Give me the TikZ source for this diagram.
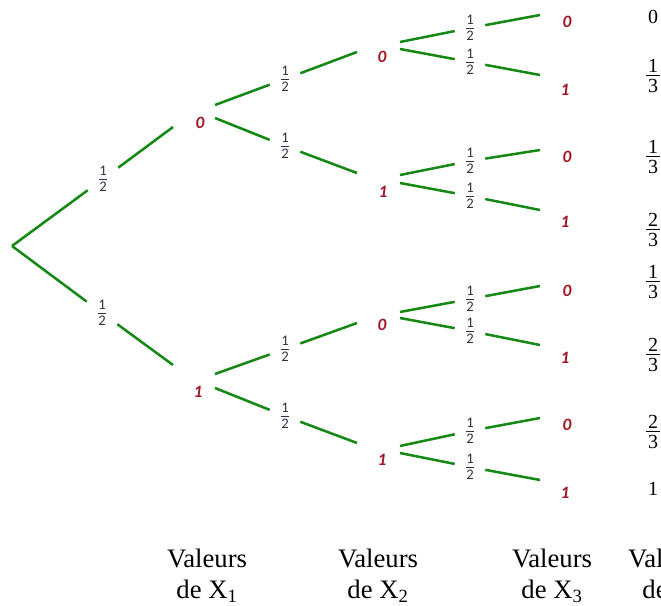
\documentclass[tikz,border=0pt]{standalone}
\usepackage{fontspec}
\setmainfont{Liberation Serif}
\newfontfamily\calibfont{Carlito}
\definecolor{treegreen}{RGB}{22,136,22}
\definecolor{valred}{RGB}{160,22,36}
\definecolor{fracink}{RGB}{45,52,70}
% stacked fraction: numerator, bar, denominator
\newcommand\pfr[2]{\vbox{\hbox to6.5pt{\hfil#1\hfil}\kern2.1pt\hrule height0.6pt\kern2.1pt\hbox to6.5pt{\hfil#2\hfil}}}
\newcommand\rfr[2]{\vbox{\hbox to10pt{\hfil#1\hfil}\kern2.4pt\hrule height0.8pt\kern2.4pt\hbox to10pt{\hfil#2\hfil}}}
\begin{document}
\begin{tikzpicture}[x=0.75pt,y=-0.75pt,
  edge/.style={draw=treegreen,line width=1.9pt},
  val/.style={font=\calibfont\fontsize{13}{15}\selectfont\bfseries\itshape,text=valred,inner sep=0pt},
  prob/.style={font=\calibfont\fontsize{11}{13}\selectfont,text=fracink,inner xsep=8pt,inner ysep=1pt},
  res/.style={font=\fontsize{15}{17}\selectfont,inner sep=0pt},
  axislabel/.style={font=\fontsize{20}{23.25}\selectfont,align=center,anchor=north,inner sep=0pt}]
\useasboundingbox (0,0) rectangle (661,606);
\clip (0,0) rectangle (661,606);

% root
\coordinate (R) at (12,246);

% values of X1
\node[val] (A0) at (200,123) {0};
\node[val] (A1) at (198,392) {1};
\coordinate (A0i) at (173,127); \coordinate (A0u) at (215,105); \coordinate (A0d) at (215,118);
\coordinate (A1i) at (173,365); \coordinate (A1u) at (215,374); \coordinate (A1d) at (215,388);

% values of X2
\node[val] (B0) at (382,57) {0};
\node[val] (B1) at (383,192) {1};
\node[val] (B2) at (382,325) {0};
\node[val] (B3) at (382,460) {1};
\coordinate (B0i) at (357,52);  \coordinate (B0u) at (400,42);  \coordinate (B0d) at (400,49);
\coordinate (B1i) at (357,173); \coordinate (B1u) at (400,175); \coordinate (B1d) at (400,183);
\coordinate (B2i) at (357,323); \coordinate (B2u) at (400,312); \coordinate (B2d) at (400,318);
\coordinate (B3i) at (357,443); \coordinate (B3u) at (400,446); \coordinate (B3d) at (400,453);

% values of X3
\node[val] (C0) at (567,22) {0};
\node[val] (C1) at (565,90) {1};
\node[val] (C2) at (567,157) {0};
\node[val] (C3) at (565,222) {1};
\node[val] (C4) at (567,291) {0};
\node[val] (C5) at (565,358) {1};
\node[val] (C6) at (567,425) {0};
\node[val] (C7) at (565,493) {1};
\coordinate (C0i) at (540,15);  \coordinate (C1i) at (540,75);
\coordinate (C2i) at (540,150); \coordinate (C3i) at (540,210);
\coordinate (C4i) at (540,286); \coordinate (C5i) at (540,345);
\coordinate (C6i) at (540,418); \coordinate (C7i) at (540,480);

% probabilities
\node[prob] (fA0) at (103,179) {\pfr{1}{2}};
\node[prob] (fA1) at (102,313) {\pfr{1}{2}};
\node[prob] (fB0) at (285,79)  {\pfr{1}{2}};
\node[prob] (fB1) at (285,146) {\pfr{1}{2}};
\node[prob] (fB2) at (285,349) {\pfr{1}{2}};
\node[prob] (fB3) at (285,416) {\pfr{1}{2}};
\node[prob] (fC0) at (470,28)  {\pfr{1}{2}};
\node[prob] (fC1) at (470,62)  {\pfr{1}{2}};
\node[prob] (fC2) at (470,161) {\pfr{1}{2}};
\node[prob] (fC3) at (470,196) {\pfr{1}{2}};
\node[prob] (fC4) at (470,299) {\pfr{1}{2}};
\node[prob] (fC5) at (470,331) {\pfr{1}{2}};
\node[prob] (fC6) at (470,431) {\pfr{1}{2}};
\node[prob] (fC7) at (470,467) {\pfr{1}{2}};

% branches
\draw[edge] (R) -- (fA0) -- (A0i);
\draw[edge] (R) -- (fA1) -- (A1i);
\draw[edge] (A0u) -- (fB0) -- (B0i);
\draw[edge] (A0d) -- (fB1) -- (B1i);
\draw[edge] (A1u) -- (fB2) -- (B2i);
\draw[edge] (A1d) -- (fB3) -- (B3i);
\draw[edge] (B0u) -- (fC0) -- (C0i);
\draw[edge] (B0d) -- (fC1) -- (C1i);
\draw[edge] (B1u) -- (fC2) -- (C2i);
\draw[edge] (B1d) -- (fC3) -- (C3i);
\draw[edge] (B2u) -- (fC4) -- (C4i);
\draw[edge] (B2d) -- (fC5) -- (C5i);
\draw[edge] (B3u) -- (fC6) -- (C6i);
\draw[edge] (B3d) -- (fC7) -- (C7i);

% last column of values
\node[res] (S0) at (653,17)  {0};
\node[res] (S1) at (653,76)  {\rfr{1}{3}};
\node[res] (S2) at (653,157) {\rfr{1}{3}};
\node[res] (S3) at (653,230) {\rfr{2}{3}};
\node[res] (S4) at (653,282) {\rfr{1}{3}};
\node[res] (S5) at (653,355) {\rfr{2}{3}};
\node[res] (S6) at (653,432) {\rfr{2}{3}};
\node[res] (S7) at (653,489) {1};

% column captions (the last one is cut by the right edge, as in the reference)
\node[axislabel] (L1) at (207,549) {Valeurs\\de X\textsubscript{1}};
\node[axislabel] (L2) at (378,549) {Valeurs\\de X\textsubscript{2}};
\node[axislabel] (L3) at (552,549) {Valeurs\\de X\textsubscript{3}};
\node[axislabel] (L4) at (668,549) {Valeurs\\de Y};
\end{tikzpicture}
\end{document}
